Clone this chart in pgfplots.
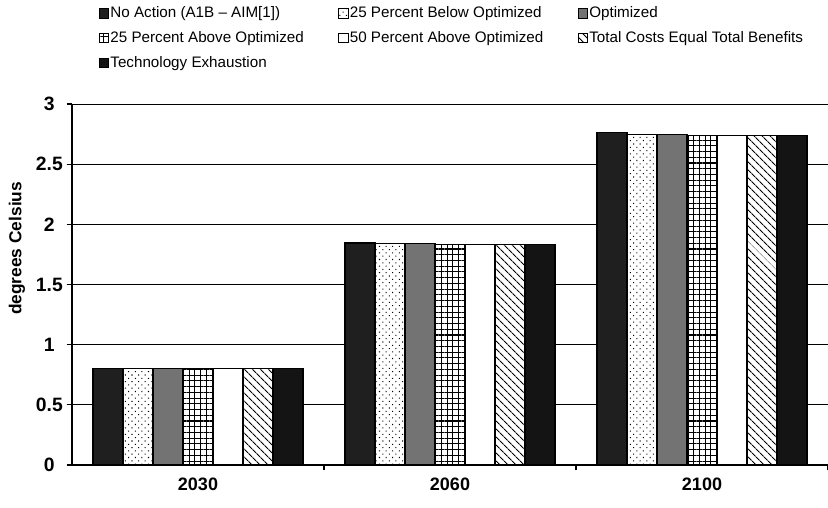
\documentclass[border=0pt]{standalone}
\usepackage{fontspec}
\setmainfont{Liberation Sans}
\usepackage{pgfplots}
\pgfplotsset{compat=1.18}
\usetikzlibrary{patterns,patterns.meta}

\pgfplotsset{
  sqlegend/.style={legend image code/.code={
    \draw[##1,line width=0.6pt] (0pt,-3.5pt) rectangle (7pt,3.5pt);}},
}
\newcommand{\lent}[1]{\makebox[170pt][l]{#1}}

\begin{document}
\begin{tikzpicture}
\path[use as bounding box] (-54pt,-31.5pt) rectangle (567pt,348.75pt);
\begin{axis}[
  at={(0pt,0pt)}, anchor=south west,
  scale only axis, width=567pt, height=270.75pt,
  ybar=0pt, bar width=22.5pt,
  xmin=-0.5, xmax=2.5, ymin=0, ymax=3,
  axis x line=bottom, axis y line=left,
  axis line style={-, line width=0.8pt},
  xtick={0.5,1.5,2.5}, xticklabels={},
  extra x ticks={0,1,2}, extra x tick labels={2030,2060,2100},
  extra x tick style={major tick length=0pt},
  ytick={0,0.5,1,1.5,2,2.5,3},
  yticklabels={0,0.5,1,1.5,2,2.5,3},
  tick align=outside, major tick length=4pt,
  tick style={black, line width=0.8pt},
  ymajorgrids, grid style={black, line width=0.6pt},
  /pgf/number format/assume math mode=true,
  yticklabel style={font=\bfseries\fontsize{14.5}{16}\selectfont,
    anchor=center, xshift=-13pt},
  xticklabel style={font=\bfseries\fontsize{13.5}{16}\selectfont, yshift=-6pt},
  ylabel={degrees Celsius},
  ylabel style={font=\bfseries\fontsize{13}{15}\selectfont,
    at={(axis description cs:-0.073,0.60)}, anchor=center},
  sqlegend,
  legend columns=3,
  legend cell align=left,
  legend style={draw=none, fill=none, inner sep=0pt,
    at={(rel axis cs:0,1)}, anchor=north west, xshift=20pt, yshift=74pt,
    font=\fontsize{11.4}{13}\selectfont, row sep=6.8pt,
    nodes={inner sep=1pt}},
  every axis plot/.append style={draw=black, line width=0.8pt},
]
\addplot[fill=black!88] coordinates {(0,0.80) (1,1.845) (2,2.765)};
\addplot[fill=white, postaction={pattern={Dots[distance=3.5pt, radius=0.55pt, angle=45]}}] coordinates {(0,0.80) (1,1.84) (2,2.745)};
\addplot[fill=black!55] coordinates {(0,0.80) (1,1.84) (2,2.745)};
\addplot[fill=white, postaction={pattern={Hatch[distance=4.3pt, line width=0.8pt]}}] coordinates {(0,0.80) (1,1.835) (2,2.74)};
\addplot[fill=white] coordinates {(0,0.80) (1,1.835) (2,2.74)};
\addplot[fill=white, postaction={pattern={Lines[angle=-45, distance=4pt, line width=0.9pt]}}] coordinates {(0,0.80) (1,1.835) (2,2.74)};
\addplot[fill=black!92] coordinates {(0,0.80) (1,1.83) (2,2.735)};
\addlegendentry{\lent{No Action (A1B -- AIM[1])}}
\addlegendentry{\lent{25 Percent Below Optimized}}
\addlegendentry{\lent{Optimized}}
\addlegendentry{\lent{25 Percent Above Optimized}}
\addlegendentry{\lent{50 Percent Above Optimized}}
\addlegendentry{\lent{Total Costs Equal Total Benefits}}
\addlegendentry{\lent{Technology Exhaustion}}
\end{axis}
\end{tikzpicture}
\end{document}
